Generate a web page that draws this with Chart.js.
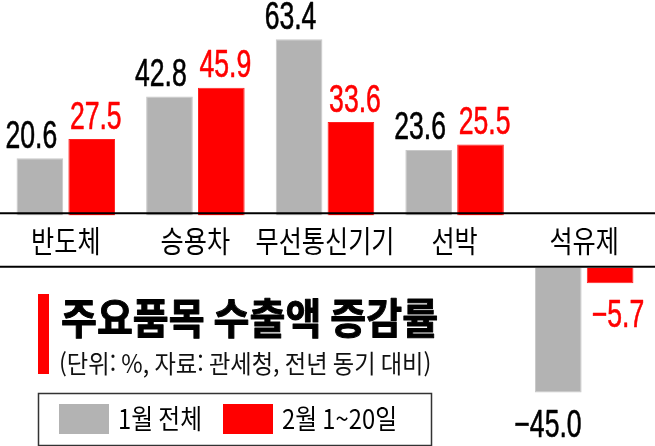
<!DOCTYPE html>
<html lang="ko">
<head>
<meta charset="utf-8">
<script src="https://cdn.jsdelivr.net/npm/chart.js@4.4.1/dist/chart.umd.min.js"></script>
<style>
  html, body { margin: 0; padding: 0; background: #fff; }
  #wrap { width: 655px; height: 446px; }
</style>
</head>
<body>
<div id="wrap"><canvas id="exportChart"></canvas></div>
<script>
const categories = ['반도체', '승용차', '무선통신기기', '선박', '석유제'];
const seriesNames = ['1월 전체', '2월 1~20일'];
const janValues = [20.6, 42.8, 63.4, 23.6, -45.0];
const febValues = [27.5, 45.9, 33.6, 25.5, -5.7];
const seriesColors = ['#b3b3b3', '#ff0000'];
const labelColors = ['#000000', '#ff0000'];
const chartTitle = '주요품목 수출액 증감률';
const chartNote = '(단위: %, 자료: 관세청, 전년 동기 대비)';

// positive bars hang off the top axis, negative ones off the bottom axis
function onlyPos(arr) { return arr.map(v => v >= 0 ? v : null); }
function onlyNeg(arr) { return arr.map(v => v < 0 ? v : null); }

// the print font is condensed, so squeeze text horizontally
function squeezeText(ctx, text, x, y, font, color, sx, align, baseline, heavy) {
  ctx.save();
  ctx.font = font;
  ctx.fillStyle = color;
  ctx.textAlign = align || 'left';
  ctx.textBaseline = baseline || 'alphabetic';
  ctx.translate(x, y);
  ctx.scale(sx, 1);
  ctx.fillText(text, 0, 0);
  if (heavy) {
    ctx.strokeStyle = color;
    ctx.lineWidth = heavy;
    ctx.lineJoin = 'round';
    ctx.strokeText(text, 0, 0);
  }
  ctx.restore();
}

const splitAxis = {
  id: 'splitAxis',
  afterDatasetsDraw(chart) {
    const {ctx, scales: {x, yPos, yGap, yNeg}} = chart;
    ctx.save();
    ctx.strokeStyle = '#000';
    ctx.lineWidth = 2;
    const lines = [yPos.getPixelForValue(0) - 2.2, yNeg.getPixelForValue(0) - 0.8];
    lines.forEach(py => {
      ctx.beginPath();
      ctx.moveTo(0, py);
      ctx.lineTo(chart.width, py);
      ctx.stroke();
    });
    ctx.restore();
    const mid = (yGap.top + yGap.bottom) / 2 - 1;
    categories.forEach((c, i) => {
      squeezeText(ctx, c, x.getPixelForValue(i), mid, '30px "Noto Sans CJK KR"', '#000', 0.84, 'center', 'middle');
    });
  }
};

const valueLabels = {
  id: 'valueLabels',
  afterDatasetsDraw(chart) {
    const ctx = chart.ctx;
    chart.data.datasets.forEach((ds, i) => {
      const meta = chart.getDatasetMeta(i);
      meta.data.forEach((bar, j) => {
        const v = ds.data[j];
        if (v === null) return;
        const s = ds.series;
        const half = bar.width / 2;
        let x, align;
        if (s === 0) {
          align = 'right';
          x = bar.x + half - (v >= 0 ? 6 : 0);
        } else {
          align = 'left';
          x = bar.x - half + (v >= 0 ? 1.5 : 5);
        }
        const y = v >= 0 ? bar.y - 10.5 : bar.y + 44;
        const txt = (v < 0 ? '\u2212' : '') + Math.abs(v).toFixed(1);
        squeezeText(ctx, txt, x, y, '38px "Liberation Sans"', labelColors[s], 0.7, align, 'alphabetic', 0.6);
      });
    });
  }
};

const headerBlock = {
  id: 'headerBlock',
  afterDraw(chart) {
    const ctx = chart.ctx;
    ctx.save();
    ctx.fillStyle = '#ff0000';
    ctx.fillRect(38, 294, 11, 80);
    ctx.restore();
    squeezeText(ctx, chartTitle, 61, 318, 'bold 42px "Noto Sans CJK KR"', '#000', 0.93, 'left', 'middle', 1);
    squeezeText(ctx, chartNote, 59, 363, '25px "Noto Sans CJK KR"', '#111', 0.93, 'left', 'middle');

    // legend box
    ctx.save();
    ctx.strokeStyle = '#333';
    ctx.lineWidth = 1.5;
    ctx.strokeRect(38.5, 393.5, 393, 52);
    ctx.restore();
    const keyX = [59, 223];
    seriesNames.forEach((name, s) => {
      ctx.fillStyle = seriesColors[s];
      ctx.fillRect(keyX[s], 404, 50, 30);
      squeezeText(ctx, name, keyX[s] + 59, 419, '27px "Noto Sans CJK KR"', '#000', 0.88, 'left', 'middle');
    });
  }
};

function makeSet(s, data, axis) {
  return {
    label: seriesNames[s],
    series: s,
    data: data,
    yAxisID: axis,
    stack: s === 0 ? 'jan' : 'feb',
    backgroundColor: seriesColors[s],
    borderColor: s === 0 ? '#c8c8c8' : '#ff2020',
    borderWidth: 1,
    categoryPercentage: 0.8,
    barPercentage: 0.9
  };
}

const ctx = document.getElementById('exportChart').getContext('2d');
const exportChart = new Chart(ctx, {
  type: 'bar',
  data: {
    labels: categories,
    datasets: [
      makeSet(0, onlyPos(janValues), 'yPos'),
      makeSet(0, onlyNeg(janValues), 'yNeg'),
      makeSet(1, onlyPos(febValues), 'yPos'),
      makeSet(1, onlyNeg(febValues), 'yNeg')
    ]
  },
  options: {
    responsive: true,
    maintainAspectRatio: false,
    animation: false,
    layout: { padding: { left: 1, right: 6, top: 0, bottom: 0 } },
    plugins: {
      legend: { display: false },
      tooltip: { enabled: false }
    },
    // stacked left axes are laid out last-first, so the bottom one comes first here
    scales: {
      x: { display: false, offset: true, grid: { display: false } },
      yNeg: { type: 'linear', display: false, position: 'left', stack: 'v', stackWeight: 178.5, min: -64.2, max: 0, stacked: false },
      yGap: { type: 'linear', display: false, position: 'left', stack: 'v', stackWeight: 52, min: 0, max: 1 },
      yPos: { type: 'linear', display: false, position: 'left', stack: 'v', stackWeight: 215.5, min: 0, max: 77.5, stacked: false }
    }
  },
  plugins: [splitAxis, valueLabels, headerBlock]
});
</script>
</body>
</html>
